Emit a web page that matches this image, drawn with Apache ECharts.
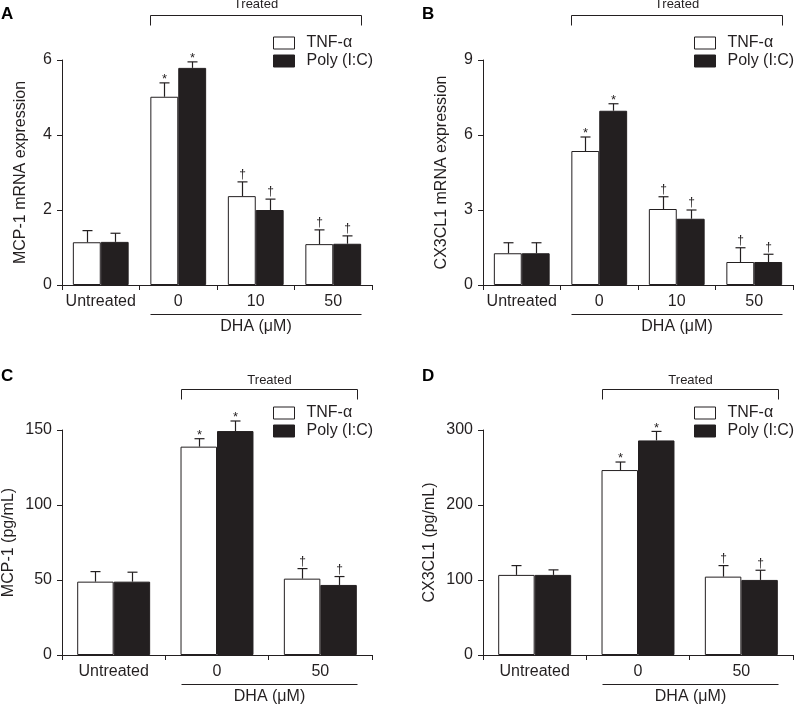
<!DOCTYPE html>
<html><head><meta charset="utf-8">
<script src="https://cdn.jsdelivr.net/npm/echarts@6/dist/echarts.min.js"></script>
<style>html,body{margin:0;padding:0;background:#fff}#c{width:794px;height:706px}</style>
</head><body><div id="c"></div>
<script>
// ---------- data ----------
const catsAB = ['Untreated', '0', '10', '50'];
const catsCD = ['Untreated', '0', '50'];
const seriesNames = ['TNF-α', 'Poly (I:C)'];
const yNames = ['MCP-1 mRNA expression', 'CX3CL1 mRNA expression', 'MCP-1 (pg/mL)', 'CX3CL1 (pg/mL)'];
const panelLabels = ['A', 'B', 'C', 'D'];
const yMax = [6, 9, 150, 300];
const yInterval = [2, 3, 50, 100];
const groupTitle = 'Treated';
const doseTitle = 'DHA (μM)';

// Panel A: MCP-1 mRNA
const aTnf = [1.14, 5.02, 2.37, 1.09];
const aTnfErr = [0.31, 0.37, 0.38, 0.38];
const aPoly = [1.15, 5.79, 2.00, 1.10];
const aPolyErr = [0.23, 0.16, 0.29, 0.21];
const aTnfMark = ['', '*', '†', '†'];
const aPolyMark = ['', '*', '†', '†'];
// Panel B: CX3CL1 mRNA
const bTnf = [1.27, 5.36, 3.04, 0.92];
const bTnfErr = [0.42, 0.56, 0.49, 0.57];
const bPoly = [1.27, 6.97, 2.65, 0.92];
const bPolyErr = [0.42, 0.28, 0.35, 0.31];
const bTnfMark = ['', '*', '†', '†'];
const bPolyMark = ['', '*', '†', '†'];
// Panel C: MCP-1 protein
const cTnf = [48.9, 138.9, 50.9];
const cTnfErr = [6.7, 5.3, 6.7];
const cPoly = [48.9, 149.3, 46.7];
const cPolyErr = [6.3, 6.7, 5.6];
const cTnfMark = ['', '*', '†'];
const cPolyMark = ['', '*', '†'];
// Panel D: CX3CL1 protein
const dTnf = [106.8, 246.6, 104.5];
const dTnfErr = [12.4, 10.7, 14.7];
const dPoly = [106.8, 286.1, 100.1];
const dPolyErr = [6.7, 12.0, 12.9];
const dTnfMark = ['', '*', '†'];
const dPolyMark = ['', '*', '†'];

// ---------- layout / style ----------
const INK = '#231f20';
const FONT = '"Liberation Sans", Arial, Helvetica, sans-serif';
const panels = [
  {cats: catsAB, tnf: aTnf, tnfErr: aTnfErr, poly: aPoly, polyErr: aPolyErr, tm: aTnfMark, pm: aPolyMark,
   left: 62, top: 60, frac: 0.36, nameGap: 33, bracketY: 15, treatedY: 4.5},
  {cats: catsAB, tnf: bTnf, tnfErr: bTnfErr, poly: bPoly, polyErr: bPolyErr, tm: bTnfMark, pm: bPolyMark,
   left: 483, top: 60, frac: 0.36, nameGap: 33, bracketY: 15, treatedY: 4.5},
  {cats: catsCD, tnf: cTnf, tnfErr: cTnfErr, poly: cPoly, polyErr: cPolyErr, tm: cTnfMark, pm: cPolyMark,
   left: 62, top: 430, frac: 0.353, nameGap: 45, bracketY: 389, treatedY: 380.5},
  {cats: catsCD, tnf: dTnf, tnfErr: dTnfErr, poly: dPoly, polyErr: dPolyErr, tm: dTnfMark, pm: dPolyMark,
   left: 483, top: 430, frac: 0.353, nameGap: 45, bracketY: 389, treatedY: 380.5}
];
const GW = 310, GH = 225;

function errSeries(p, pi, vals, errs, marks, side) {
  return {
    type: 'custom', xAxisIndex: pi, yAxisIndex: pi, z: 5, silent: true,
    data: vals.map((v, i) => [i, v, errs[i]]),
    renderItem: function (params, api) {
      const x = api.value(0), v = api.value(1), e = api.value(2);
      const p0 = api.coord([x, v]);
      const p1 = api.coord([x, v + e]);
      const bw = api.size([1, 0])[0] * p.frac;
      const cx = Math.round(p0[0] + side * bw / 2) + 0.5;
      const ls = {stroke: INK, lineWidth: 1.2};
      const mk = marks[params.dataIndex];
      const children = [
        {type: 'line', shape: {x1: cx, y1: p0[1], x2: cx, y2: p1[1]}, style: ls},
        {type: 'line', shape: {x1: cx - 5, y1: p1[1], x2: cx + 5, y2: p1[1]}, style: ls}
      ];
      if (mk) {
        const isStar = mk === '*';
        children.push({type: 'text', style: {
          text: mk, x: cx, y: p1[1] + (isStar ? 3 : -1), textAlign: 'center', textVerticalAlign: 'bottom',
          fill: INK, font: (isStar ? '13px ' : '12px ') + FONT}});
      }
      return {type: 'group', children: children};
    }
  };
}

const grids = [], xAxes = [], yAxes = [], series = [], legends = [];
panels.forEach((p, pi) => {
  grids.push({left: p.left, top: p.top, width: GW, height: GH});
  xAxes.push({
    type: 'category', gridIndex: pi, data: p.cats,
    axisLine: {lineStyle: {color: INK, width: 1}},
    axisTick: {show: true, length: 5, lineStyle: {color: INK}},
    axisLabel: {color: INK, fontSize: 16, fontFamily: FONT, margin: 9, interval: 0}
  });
  yAxes.push({
    type: 'value', gridIndex: pi, min: 0, max: yMax[pi], interval: yInterval[pi],
    name: yNames[pi], nameLocation: 'middle', nameGap: p.nameGap,
    nameTextStyle: {color: INK, fontSize: 16, fontFamily: FONT},
    axisLine: {show: true, lineStyle: {color: INK, width: 1}},
    axisTick: {show: true, length: 5, lineStyle: {color: INK}},
    axisLabel: {color: INK, fontSize: 16, fontFamily: FONT, margin: 10},
    splitLine: {show: false}
  });
  series.push({
    type: 'bar', name: seriesNames[0], xAxisIndex: pi, yAxisIndex: pi, data: p.tnf,
    barWidth: (p.frac * 100) + '%', barGap: '0%', silent: true,
    itemStyle: {color: '#ffffff', borderColor: INK, borderWidth: 1}
  });
  series.push({
    type: 'bar', name: seriesNames[1], xAxisIndex: pi, yAxisIndex: pi, data: p.poly,
    barWidth: (p.frac * 100) + '%', barGap: '0%', silent: true,
    itemStyle: {color: INK, borderColor: INK, borderWidth: 1}
  });
  series.push(errSeries(p, pi, p.tnf, p.tnfErr, p.tm, -1));
  series.push(errSeries(p, pi, p.poly, p.polyErr, p.pm, 1));
  legends.push({
    data: seriesNames, orient: 'vertical', left: p.left + 211, top: p.top - 25, padding: 0,
    icon: 'rect', itemWidth: 21, itemHeight: 12, itemGap: 2, selectedMode: false,
    itemStyle: {borderWidth: 1, borderColor: INK},
    textStyle: {color: INK, fontSize: 16, fontFamily: FONT, padding: [0, 0, 0, 7]}
  });
});

const chart = echarts.init(document.getElementById('c'), null, {renderer: 'canvas'});
chart.setOption({
  animation: false, backgroundColor: '#ffffff',
  grid: grids, xAxis: xAxes, yAxis: yAxes, series: series, legend: legends
});

// annotation graphics (brackets, group labels, panel letters) derived from axes
const graphics = [];
panels.forEach((p, pi) => {
  const c0 = chart.convertToPixel({xAxisIndex: pi}, 0);
  const c1 = chart.convertToPixel({xAxisIndex: pi}, 1);
  const cl = chart.convertToPixel({xAxisIndex: pi}, p.cats.length - 1);
  const band = c1 - c0;
  const bw = band * p.frac;
  const x1 = Math.round(c1 - bw) + 0.5, x2 = Math.round(cl + bw) + 0.5;
  const base = chart.convertToPixel({yAxisIndex: pi}, 0);
  const by = p.bracketY + 0.5;
  const ls = {stroke: INK, lineWidth: 1, fill: null};
  graphics.push({type: 'polyline', shape: {points: [[x1, by + 10], [x1, by], [x2, by], [x2, by + 10]]}, style: ls, silent: true});
  graphics.push({type: 'text', style: {text: groupTitle, x: (x1 + x2) / 2, y: p.treatedY, textAlign: 'center', textVerticalAlign: 'middle', fill: INK, font: '13px ' + FONT}, silent: true});
  const uy = Math.round(base + 29) + 0.5;
  graphics.push({type: 'line', shape: {x1: x1, y1: uy, x2: x2, y2: uy}, style: ls, silent: true});
  graphics.push({type: 'text', style: {text: doseTitle, x: (x1 + x2) / 2, y: base + 42, textAlign: 'center', textVerticalAlign: 'middle', fill: INK, font: '16px ' + FONT}, silent: true});
  graphics.push({type: 'text', style: {text: panelLabels[pi], x: p.left - 61, y: p.top - (pi < 2 ? 46 : 54), textAlign: 'left', textVerticalAlign: 'middle', fill: '#000', font: 'bold 17px ' + FONT}, silent: true});
});
chart.setOption({graphic: graphics});
</script>
</body></html>
